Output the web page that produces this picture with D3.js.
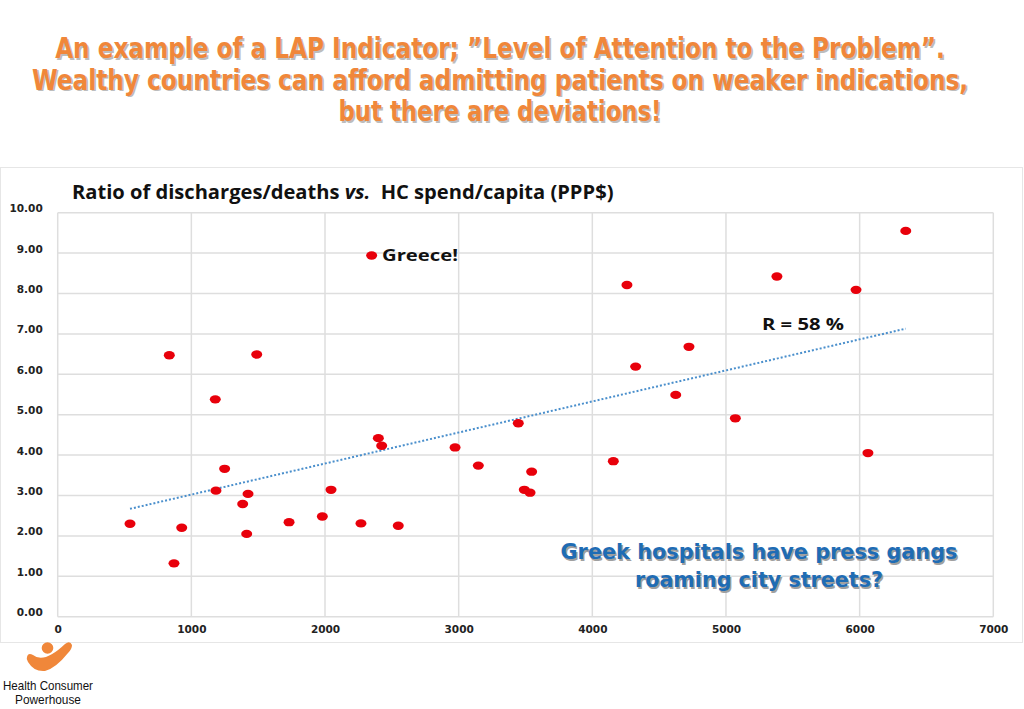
<!DOCTYPE html>
<html><head><meta charset="utf-8">
<script src="https://cdn.jsdelivr.net/npm/d3@7"></script>
<style>body{margin:0;background:#fff;}svg{display:block;}</style>
</head><body>
<svg id="c" width="1024" height="709"></svg>
<script>
const titleLines = ["An example of a LAP Indicator; \u201DLevel of Attention to the Problem\u201D.",
  "Wealthy countries can afford admitting patients on weaker indications,",
  "but there are deviations!"];
const spend = [541,835,1489,2349,1179,1249,1184,1424,1384,1414,870,928,1731,1980,2045,2269,2548,2399,2424,2973,3147,3446,3546,3491,3534,4157,4624,5070,6062,6345,4259,5381,5973,4723,4324];
const ratio = [2.30,6.47,6.49,8.94,5.38,3.66,3.12,3.04,2.79,2.05,1.32,2.20,2.34,2.48,3.14,2.31,2.25,4.42,4.23,4.19,3.74,4.79,3.59,3.14,3.07,3.85,5.49,4.91,4.05,9.55,8.21,8.42,8.09,6.68,6.19];
const trendX = [541, 6345];
const trendY = [2.67, 7.13];
const xTicks = [0,1000,2000,3000,4000,5000,6000,7000];
const yTicks = [0,1,2,3,4,5,6,7,8,9,10];
const calloutLines = ["Greek hospitals have press gangs","roaming city streets?"];

const svg = d3.select("#c");
const x = d3.scaleLinear().domain([0,7000]).range([57.7,993.3]);
const y = d3.scaleLinear().domain([0,10]).range([616.7,212.7]);

// place text at (px,py) with given anchor, horizontally scaled to width w
function fitText(g, px, py, w, anchor, build){
  const t = g.append("text").attr("x",0).attr("y",0).attr("text-anchor",anchor);
  build(t);
  const n = t.node().getComputedTextLength();
  const s = w / n;
  t.attr("transform",`translate(${px},${py}) scale(${s},1)`);
  return t;
}

// slide title
const tW = [890, 937, 323];
const tg = svg.append("g");
titleLines.forEach((t,i)=>{
  const yy = 58 + i*31.5;
  [["#bdbdbd",1.5],["#F0873A",0]].forEach(([c,o])=>{
    fitText(tg, 500+o, yy+o, tW[i], "middle", s=>s
      .attr("font-family","'DejaVu Sans',sans-serif").attr("font-weight","bold")
      .attr("font-size",29).attr("fill",c).text(t));
  });
});

// chart panel border
svg.append("rect").attr("x",0.5).attr("y",167.5).attr("width",1022).attr("height",475)
  .attr("fill","#fff").attr("stroke","#e6e6e6");

// chart title
fitText(svg, 72, 199, 542, "start", ct=>{
  ct.attr("font-family","'Open Sans','Noto Sans',sans-serif").attr("font-weight","bold")
    .attr("font-size",20).attr("fill","#111");
  ct.append("tspan").text("Ratio of discharges/deaths ");
  ct.append("tspan").attr("font-style","italic").text("vs.");
  ct.append("tspan").attr("xml:space","preserve").text("  HC spend/capita (PPP$)");
});

// grid
const grid = svg.append("g");
grid.selectAll("line.h").data(yTicks).join("line")
  .attr("x1",x(0)).attr("x2",x(7000)).attr("y1",d=>y(d)).attr("y2",d=>y(d))
  .attr("stroke","#dedede").attr("stroke-width",1.5);
grid.selectAll("line.v").data(xTicks).join("line")
  .attr("y1",y(0)).attr("y2",y(10)).attr("x1",d=>x(d)).attr("x2",d=>x(d))
  .attr("stroke","#dedede").attr("stroke-width",1.5);

// axes labels
const yAxis = d3.axisLeft(y).tickValues(yTicks).tickFormat(d3.format(".2f")).tickSize(0).tickPadding(15);
const ya = svg.append("g").attr("transform",`translate(${x(0)},0)`).call(yAxis);
ya.select(".domain").remove();
ya.selectAll("text").attr("font-family","Verdana,'DejaVu Sans',sans-serif").attr("font-weight","bold")
  .attr("font-size",10.5).attr("fill","#222").attr("dy","-0.1em");
const xAxis = d3.axisBottom(x).tickValues(xTicks).tickFormat(d3.format("d")).tickSize(0).tickPadding(9);
const xa = svg.append("g").attr("transform",`translate(0,${y(0)})`).call(xAxis);
xa.select(".domain").remove();
xa.selectAll("text").attr("font-family","Verdana,'DejaVu Sans',sans-serif").attr("font-weight","bold")
  .attr("font-size",10.5).attr("fill","#222");

// trend line
svg.append("line").attr("x1",x(trendX[0])).attr("y1",y(trendY[0]))
  .attr("x2",x(trendX[1])).attr("y2",y(trendY[1]))
  .attr("stroke","#4a8fcc").attr("stroke-width",2).attr("stroke-dasharray","2,2");

// points
svg.append("g").selectAll("ellipse").data(spend.map((s,i)=>[s,ratio[i]])).join("ellipse")
  .attr("cx",d=>x(d[0])).attr("cy",d=>y(d[1])).attr("rx",5.5).attr("ry",4.2)
  .attr("fill","#e8000b");

// labels
fitText(svg, 382, 261, 76, "start", s=>s.attr("font-family","'Open Sans','Noto Sans',sans-serif")
  .attr("font-weight","bold").attr("font-size",16).attr("fill","#111").text("Greece!"));
fitText(svg, 762, 330, 82, "start", s=>s.attr("font-family","'Open Sans','Noto Sans',sans-serif")
  .attr("font-weight","bold").attr("font-size",16).attr("fill","#111").text("R = 58 %"));

// callout
calloutLines.forEach((t,i)=>{
  const yy = 559 + i*28;
  const w = [397, 248][i];
  [["#a0a0a0",1.5],["#1F6CB4",0]].forEach(([c,o])=>{
    fitText(svg, 759+o, yy+o, w, "middle", s=>s
      .attr("font-family","'DejaVu Sans',sans-serif").attr("font-weight","bold")
      .attr("font-size",22).attr("fill",c).text(t));
  });
});

// logo
const lg = svg.append("g");
lg.append("circle").attr("cx",47.5).attr("cy",648).attr("r",5.8).attr("fill","#F0873A");
lg.append("path").attr("d","M27,657 Q28,652 33,655 Q44,664 65,644 Q70,640 72,645 Q72,649 68,653 Q56,668 45,671 Q34,672 28,662 Q26,659 27,657 Z")
  .attr("fill","#F0873A");
[["Health Consumer",690,90],["Powerhouse",704,66]].forEach(([t,yy,w])=>{
  fitText(lg, 48, yy, w, "middle", s=>s
    .attr("font-family","'Liberation Sans',Arial,sans-serif")
    .attr("font-size",13).attr("fill","#111").text(t));
});
</script>
</body></html>
